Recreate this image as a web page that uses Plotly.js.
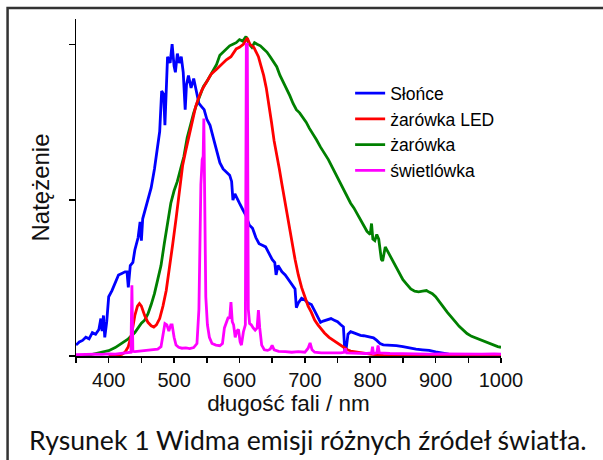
<!DOCTYPE html>
<html>
<head>
<meta charset="utf-8">
<script src="https://cdn.plot.ly/plotly-3.0.1.min.js"></script>
<style>html,body{margin:0;padding:0;background:#fff;}#chart{width:603px;height:460px;}</style>
</head>
<body>
<div id="chart"></div>
<script>
// ---- data ----
var seriesNames = ["Słońce", "żarówka LED", "żarówka", "świetlówka"];
var seriesColors = ["#0000FF", "#FF0000", "#008000", "#FF00FF"];
var xTickVals = [400, 500, 600, 700, 800, 900, 1000];
var xTickText = ["400", "500", "600", "700", "800", "900", "1000"];

var sunWl = [350,355,360,365,370,375,380,385,388,390,392,394,397,400,405,410,415,420,425,428,430,433,437,440,445,448,450,452,456,460,465,470,474,478,481,484,486,488,490,494,497,500,502,505,508,511,514,517,519,522,526,530,534,538,542,546,550,555,560,565,570,575,580,585,588,590,593,597,600,605,610,615,620,625,630,635,640,645,650,654,656,659,665,670,675,680,685,687,690,695,700,705,710,715,720,724,728,735,740,745,750,755,759,761,763,766,770,775,780,785,790,795,800,805,810,815,820,830,840,850,860,870,880,890,900,910,920,930,940,960,980,1000];
var sunVal = [0.035,0.045,0.05,0.06,0.055,0.075,0.07,0.085,0.12,0.08,0.13,0.06,0.11,0.19,0.21,0.235,0.26,0.265,0.27,0.27,0.22,0.29,0.3,0.34,0.38,0.43,0.37,0.44,0.47,0.5,0.54,0.6,0.66,0.72,0.85,0.84,0.74,0.86,0.96,0.94,1.0,0.93,0.91,0.97,0.94,0.96,0.91,0.79,0.87,0.9,0.86,0.89,0.85,0.81,0.8,0.79,0.76,0.74,0.7,0.66,0.62,0.6,0.59,0.58,0.56,0.5,0.52,0.5,0.49,0.47,0.45,0.42,0.41,0.38,0.36,0.355,0.35,0.33,0.31,0.3,0.26,0.29,0.27,0.26,0.245,0.23,0.215,0.155,0.17,0.185,0.18,0.17,0.165,0.145,0.125,0.108,0.112,0.118,0.12,0.115,0.11,0.1,0.093,0.02,0.02,0.07,0.078,0.074,0.07,0.066,0.065,0.063,0.061,0.058,0.05,0.04,0.036,0.035,0.033,0.03,0.025,0.022,0.02,0.018,0.013,0.009,0.006,0.004,0.003,0.002,0.002,0.002];

var ledWl = [400,415,420,425,430,435,440,444,447,450,455,460,465,469,473,478,483,488,493,498,503,508,513,518,523,528,533,538,543,550,557,565,572,580,587,595,600,606,612,616,622,629,633,637,641,645,649,653,657,661,665,669,673,677,681,685,690,695,700,705,710,715,720,725,730,737,744,751,759,765,770,780,790,800,810,820,850,900,1000];
var ledVal = [0.0,0.002,0.005,0.012,0.03,0.07,0.13,0.16,0.168,0.16,0.13,0.108,0.097,0.093,0.1,0.12,0.16,0.21,0.28,0.36,0.44,0.53,0.61,0.66,0.71,0.76,0.8,0.83,0.855,0.88,0.905,0.92,0.935,0.95,0.96,0.985,0.99,1.0,1.02,1.0,0.99,0.96,0.93,0.9,0.86,0.81,0.75,0.69,0.65,0.6,0.55,0.5,0.45,0.4,0.35,0.31,0.26,0.22,0.19,0.16,0.14,0.115,0.1,0.085,0.074,0.06,0.05,0.038,0.029,0.02,0.016,0.012,0.008,0.006,0.004,0.002,0.001,0.0,0.0];

var bulbWl = [350,370,380,390,400,410,420,430,440,445,450,455,460,465,470,475,480,485,490,495,500,505,510,515,520,525,530,535,540,545,550,555,560,565,570,575,580,585,590,595,600,605,610,615,619,623,627,632,637,642,647,652,657,662,667,672,677,682,687,692,697,702,707,712,718,724,730,736,742,748,754,760,765,770,775,780,785,790,795,800,802,804,807,810,813,817,819,823,828,833,838,844,850,856,862,868,874,880,886,890,895,900,906,912,918,924,930,936,942,948,955,962,970,977,984,990,995,1000];
var bulbVal = [0.0,0.003,0.008,0.012,0.017,0.027,0.04,0.055,0.075,0.09,0.105,0.115,0.135,0.165,0.2,0.245,0.29,0.36,0.42,0.49,0.53,0.56,0.6,0.64,0.7,0.745,0.78,0.81,0.84,0.865,0.88,0.9,0.92,0.935,0.965,0.975,0.985,0.995,1.0,1.005,1.015,1.01,1.025,1.0,0.99,1.005,1.0,0.995,0.985,0.975,0.96,0.945,0.928,0.9,0.88,0.855,0.835,0.81,0.79,0.78,0.765,0.75,0.73,0.715,0.693,0.67,0.65,0.63,0.605,0.58,0.56,0.53,0.51,0.49,0.475,0.455,0.44,0.42,0.4,0.39,0.425,0.375,0.37,0.39,0.375,0.31,0.305,0.35,0.33,0.31,0.29,0.27,0.245,0.23,0.215,0.208,0.206,0.208,0.21,0.205,0.2,0.19,0.175,0.157,0.14,0.123,0.11,0.095,0.083,0.072,0.063,0.057,0.05,0.045,0.04,0.035,0.03,0.028];

var flWl = [350,360,370,380,390,400,410,420,430,434,435.5,437,440,450,460,470,475,480,483,486,489,492,495,497,500,503,507,512,518,524,530,535,538,541,543,544.5,545.5,547,548.5,551,554,558,564,570,574,577,580,583,585,587,589,591,593.5,596,598.5,601,603,606,609,610.5,612,613.5,615.5,618,621,624,627,629,631,634,638,643,647,650,653,660,670,680,690,700,705,708,711,715,725,740,755,760,762,764,780,795,802,803.5,805,810,812,814,830,850,870,890,910,930,950,970,990,1000];
var flVal = [0.004,0.005,0.004,0.006,0.005,0.007,0.006,0.008,0.009,0.012,0.227,0.015,0.014,0.016,0.018,0.02,0.022,0.03,0.07,0.104,0.1,0.08,0.1,0.1,0.06,0.035,0.028,0.025,0.026,0.024,0.027,0.04,0.15,0.55,0.63,0.64,0.762,0.55,0.19,0.1,0.06,0.04,0.035,0.033,0.04,0.09,0.11,0.125,0.12,0.173,0.11,0.1,0.06,0.08,0.085,0.045,0.035,0.077,0.1,1.0,1.0,0.15,0.104,0.1,0.09,0.083,0.09,0.147,0.09,0.035,0.02,0.018,0.022,0.034,0.02,0.015,0.014,0.012,0.014,0.012,0.025,0.042,0.02,0.012,0.01,0.009,0.01,0.012,0.024,0.01,0.008,0.008,0.01,0.03,0.008,0.01,0.034,0.01,0.008,0.007,0.008,0.006,0.007,0.006,0.007,0.006,0.007,0.006];

// ---- chart ----
var FONT = "Liberation Sans, Arial, sans-serif";
function mk(i, x, y, rank) {
  return {x: x, y: y, name: seriesNames[i], type: "scatter", mode: "lines",
    line: {color: seriesColors[i], width: 2.8}, legendrank: rank};
}
var traces = [
  mk(0, sunWl, sunVal, 1),
  mk(2, bulbWl, bulbVal, 3),
  mk(1, ledWl, ledVal, 2),
  mk(3, flWl, flVal, 4)
];

var layout = {
  width: 603, height: 460,
  margin: {l: 76, r: 102, t: 19, b: 104, pad: 0},
  paper_bgcolor: "#fff", plot_bgcolor: "#fff",
  font: {family: FONT, color: "#000"},
  showlegend: true,
  legend: {x: 0.645, y: 0.833, xanchor: "left", yanchor: "top",
    bgcolor: "rgba(0,0,0,0)", borderwidth: 0, font: {family: FONT, size: 17.5, color: "#000"},
    tracegroupgap: 0},
  xaxis: {range: [350, 1000], tickmode: "array", tickvals: xTickVals, ticktext: xTickText,
    ticks: "outside", ticklen: 5, tickwidth: 1.5, tickcolor: "#000",
    minor: {dtick: 50, tick0: 350, ticks: "outside", ticklen: 5, tickwidth: 1.5, tickcolor: "#000"},
    showline: true, linecolor: "#000", linewidth: 1.5, showgrid: false, zeroline: false,
    tickfont: {family: FONT, size: 20, color: "#111"},
    title: {text: "długość fali / nm", font: {family: FONT, size: 22.5, color: "#111"}, standoff: 3}},
  yaxis: {range: [0, 1.081], tickmode: "array", tickvals: [0, 0.5, 1], showticklabels: false,
    ticks: "outside", ticklen: 6, tickwidth: 1.5, tickcolor: "#000",
    showline: true, linecolor: "#000", linewidth: 1.5, showgrid: false, zeroline: false,
    title: {text: "Natężenie", font: {family: FONT, size: 24, color: "#111"}, standoff: 12}},
  shapes: [{type: "rect", xref: "paper", yref: "paper", x0: -0.161, y0: 1.0326, x1: 1.6, y1: -0.6,
    line: {color: "#333", width: 2.5}, fillcolor: "rgba(0,0,0,0)", layer: "above"}],
  annotations: [{xref: "paper", yref: "paper", x: 0.546, y: -0.249, xanchor: "center", yanchor: "middle",
    showarrow: false, text: "Rysunek 1 Widma emisji różnych źródeł światła.",
    font: {family: "Lato, Carlito, sans-serif", size: 26.6, color: "#111"}}]
};

Plotly.newPlot("chart", traces, layout, {displayModeBar: false, staticPlot: true});
</script>
</body>
</html>
